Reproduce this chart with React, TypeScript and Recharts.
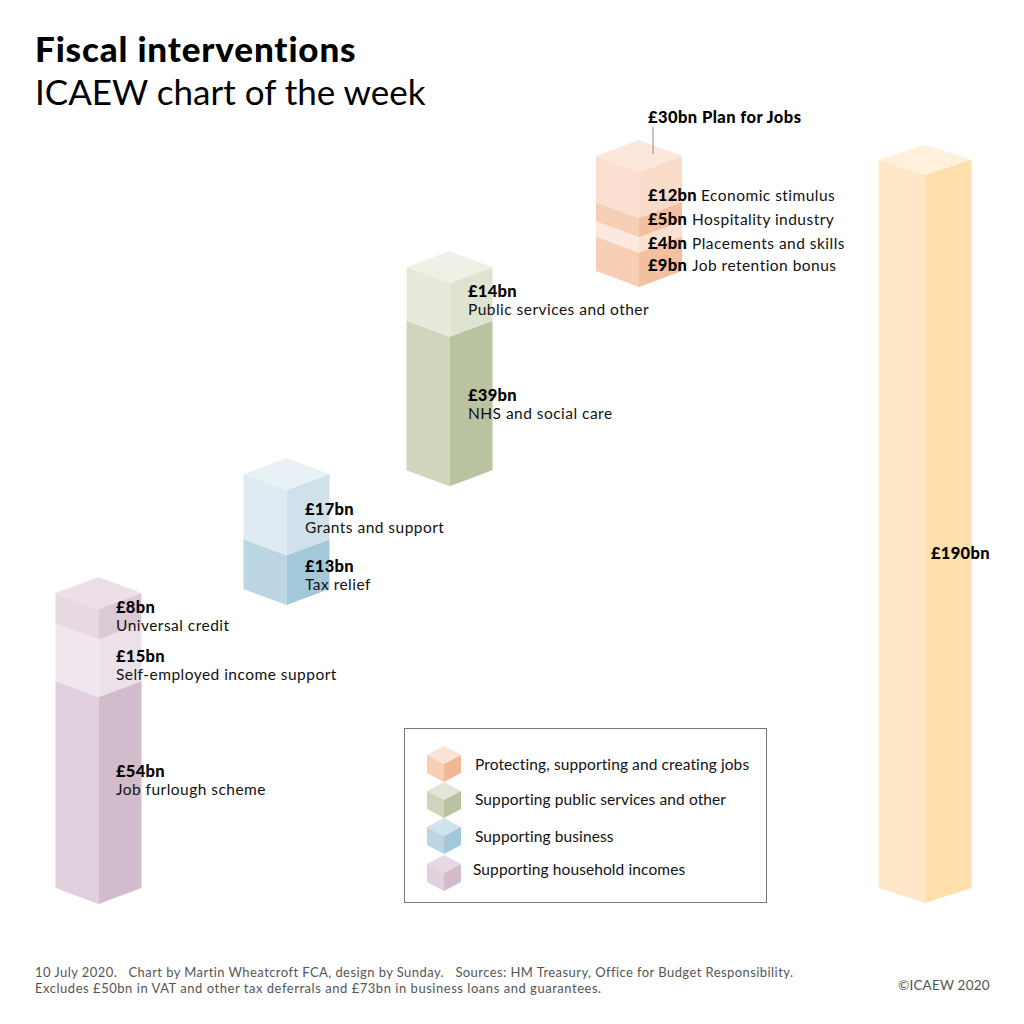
import React from "react";
import { BarChart, Bar, XAxis, YAxis } from "recharts";

const FONT = "Lato, 'Noto Sans', sans-serif";

// columns, left to right (values in £bn, floating on an estimated base)
const CATEGORIES = ["Household incomes", "Business", "Public services", "Jobs", "Total"];
const COLUMN_BASE = [0, 78, 109, 161, 0];
const SEGMENT_1 = [54, 13, 39, 9, 190];
const SEGMENT_2 = [15, 17, 14, 4, 0];
const SEGMENT_3 = [8, 0, 0, 5, 0];
const SEGMENT_4 = [0, 0, 0, 12, 0];

const LEGEND_LABELS = [
  "Protecting, supporting and creating jobs",
  "Supporting public services and other",
  "Supporting business",
  "Supporting household incomes",
];

const FOOTER_LINES = [
  "10 July 2020.   Chart by Martin Wheatcroft FCA, design by Sunday.   Sources: HM Treasury, Office for Budget Responsibility.",
  "Excludes £50bn in VAT and other tax deferrals and £73bn in business loans and guarantees.",
];

// layout only: the columns aren't evenly spaced in the original
const COLUMN_CENTRES = [98, 286, 449, 638.5, 924.5];
const DEPTH = 16;

type Face = { top: string; left: string; right: string };

const TOP_FACES = ["#ecdfe8", "#e8f1f6", "#edf1e6", "#fce7db", "#fff0db"];

const FACES: Face[][] = [
  [
    { top: "", left: "#e1d0dd", right: "#d2bccb" },
    { top: "", left: "#f0e6ed", right: "#ede1e9" },
    { top: "", left: "#e6d9e2", right: "#dcc9d6" },
  ],
  [
    { top: "", left: "#bbd5e2", right: "#a3c8da" },
    { top: "", left: "#deebf2", right: "#cfe2eb" },
  ],
  [
    { top: "", left: "#d0d6bc", right: "#bac39f" },
    { top: "", left: "#e6eadb", right: "#dfe4d2" },
  ],
  [
    { top: "", left: "#f6cfb5", right: "#f2bf9f" },
    { top: "", left: "#fce8dc", right: "#fbe0d0" },
    { top: "", left: "#f6cfb5", right: "#f2bf9f" },
    { top: "", left: "#fbe0d2", right: "#f9dbc9" },
  ],
  [{ top: "", left: "#ffe8c8", right: "#ffe0ac" }],
];

const LEGEND_CUBES = [
  { top: "#fbe3d5", left: "#f6cfb5", right: "#f2b896" },
  { top: "#e3e7d6", left: "#d0d6bc", right: "#bac39f" },
  { top: "#cfe3ee", left: "#bbd5e2", right: "#a3c8da" },
  { top: "#e6d9e2", left: "#e1d0dd", right: "#d2bccb" },
];
const LEGEND_TOPS = [746, 782, 818, 855];
const LEGEND_TEXT = [
  { x: 475, y: 770 },
  { x: 475, y: 805 },
  { x: 475, y: 842 },
  { x: 473, y: 875 },
];

const SEGMENT_LABELS = [
  { x: 116, y: 613, amount: "£8bn", name: "Universal credit" },
  { x: 116, y: 662, amount: "£15bn", name: "Self-employed income support" },
  { x: 116, y: 777, amount: "£54bn", name: "Job furlough scheme" },
  { x: 305, y: 515, amount: "£17bn", name: "Grants and support" },
  { x: 305, y: 572, amount: "£13bn", name: "Tax relief" },
  { x: 468, y: 297, amount: "£14bn", name: "Public services and other" },
  { x: 468, y: 401, amount: "£39bn", name: "NHS and social care" },
];

const INLINE_LABELS = [
  { y: 201, nameX: 701, amount: "£12bn", name: "Economic stimulus" },
  { y: 225, nameX: 692, amount: "£5bn", name: "Hospitality industry" },
  { y: 249, nameX: 692, amount: "£4bn", name: "Placements and skills" },
  { y: 271, nameX: 692, amount: "£9bn", name: "Job retention bonus" },
];

const chartData = CATEGORIES.map((name, i) => ({
  name,
  centre: COLUMN_CENTRES[i],
  base: COLUMN_BASE[i],
  s1: SEGMENT_1[i],
  s2: SEGMENT_2[i],
  s3: SEGMENT_3[i],
  s4: SEGMENT_4[i],
}));

const SEGMENT_KEYS = ["s1", "s2", "s3", "s4"];

// one storey of the isometric column; the topmost storey also gets the lid
function makePrism(segment: number) {
  return function Prism(props: any) {
    const { x, y, width, height, index } = props;
    if (!height || height <= 0) return <g />;
    const wide = index === CATEGORIES.length - 1;
    const w = wide ? 93 : width;
    const left = x + width / 2 - w / 2;
    const cx = left + w / 2;
    const right = left + w;
    const d = wide ? 15 : DEPTH;
    const face = FACES[index][segment];
    const row = [SEGMENT_1, SEGMENT_2, SEGMENT_3, SEGMENT_4];
    const isTop = row.slice(segment + 1).every((s) => s[index] === 0);
    return (
      <g>
        <polygon
          points={`${left},${y} ${cx},${y + d} ${cx},${y + height + d} ${left},${y + height}`}
          fill={face.left}
        />
        <polygon
          points={`${cx},${y + d} ${right},${y} ${right},${y + height} ${cx},${y + height + d}`}
          fill={face.right}
        />
        {isTop ? (
          <polygon
            points={`${left},${y} ${cx},${y - d} ${right},${y} ${cx},${y + d}`}
            fill={TOP_FACES[index]}
          />
        ) : null}
      </g>
    );
  };
}

function Cube({ top, colours }: { top: number; colours: Face }) {
  const l = 427;
  const c = 444;
  const r = 461;
  const d = 9;
  return (
    <g>
      <polygon points={`${l},${top + d} ${c},${top} ${r},${top + d} ${c},${top + 2 * d}`} fill={colours.top} />
      <polygon points={`${l},${top + d} ${c},${top + 2 * d} ${c},${top + 36} ${l},${top + 27}`} fill={colours.left} />
      <polygon points={`${c},${top + 2 * d} ${r},${top + d} ${r},${top + 27} ${c},${top + 36}`} fill={colours.right} />
    </g>
  );
}

function Overlay() {
  const label = { fontFamily: FONT, fontSize: 15.5, letterSpacing: 0.47, fill: "#111" };
  const legend = { ...label, letterSpacing: 0.1 };
  const bold = { ...label, fontWeight: 900, fontSize: 16.5, letterSpacing: 0.3, fill: "#000" };
  return (
    <svg width={1024} height={1024} style={{ position: "absolute", left: 0, top: 0, pointerEvents: "none" }}>
      <text x={35} y={62} fontFamily={FONT} fontSize={35} fontWeight={900} letterSpacing={0.85} fill="#000">
        Fiscal interventions
      </text>
      <text x={35} y={105} fontFamily={FONT} fontSize={35} fill="#000">
        ICAEW chart of the week
      </text>

      {SEGMENT_LABELS.map((l) => (
        <g key={l.amount}>
          <text x={l.x} y={l.y} {...bold}>
            {l.amount}
          </text>
          <text x={l.x} y={l.y + 18} {...label}>
            {l.name}
          </text>
        </g>
      ))}
      {INLINE_LABELS.map((l) => (
        <g key={l.amount}>
          <text x={648} y={l.y} {...bold}>
            {l.amount}
          </text>
          <text x={l.nameX} y={l.y} {...label}>
            {l.name}
          </text>
        </g>
      ))}

      <text x={648} y={123} {...bold} letterSpacing={0.42}>
        £30bn Plan for Jobs
      </text>
      <line x1={653} y1={127} x2={653} y2={154} stroke="#8a8a8a" strokeWidth={1} />
      <text x={931} y={559} {...bold}>
        £190bn
      </text>

      <rect x={404.5} y={728.5} width={362} height={174} fill="none" stroke="#777" strokeWidth={1} />
      {LEGEND_CUBES.map((colours, i) => (
        <Cube key={i} top={LEGEND_TOPS[i]} colours={colours} />
      ))}
      {LEGEND_LABELS.map((text, i) => (
        <text key={text} x={LEGEND_TEXT[i].x} y={LEGEND_TEXT[i].y} {...legend}>
          {text}
        </text>
      ))}

      {FOOTER_LINES.map((line, i) => (
        <text
          key={i}
          x={35}
          y={977 + i * 16}
          fontFamily={FONT}
          fontSize={13}
          letterSpacing={i === 0 ? 0.43 : 0.53}
          fill="#555"
          xmlSpace="preserve"
        >
          {line}
        </text>
      ))}
      <text x={898} y={990} fontFamily={FONT} fontSize={13.5} letterSpacing={0.2} fill="#555">
        ©ICAEW 2020
      </text>
    </svg>
  );
}

export default function App() {
  return (
    <div style={{ position: "absolute", left: 0, top: 0, width: 1024, height: 1024, background: "#fff" }}>
      <BarChart
        width={1024}
        height={1024}
        data={chartData}
        margin={{ top: 156, right: 0, bottom: 136, left: 0 }}
        barSize={86}
      >
        <XAxis dataKey="centre" type="number" domain={[0, 1024]} hide />
        <YAxis type="number" domain={[0, 191]} hide />
        <Bar dataKey="base" stackId="a" fill="none" isAnimationActive={false} />
        {SEGMENT_KEYS.map((key, i) => (
          <Bar key={key} dataKey={key} stackId="a" shape={makePrism(i)} isAnimationActive={false} />
        ))}
      </BarChart>
      <Overlay />
    </div>
  );
}
